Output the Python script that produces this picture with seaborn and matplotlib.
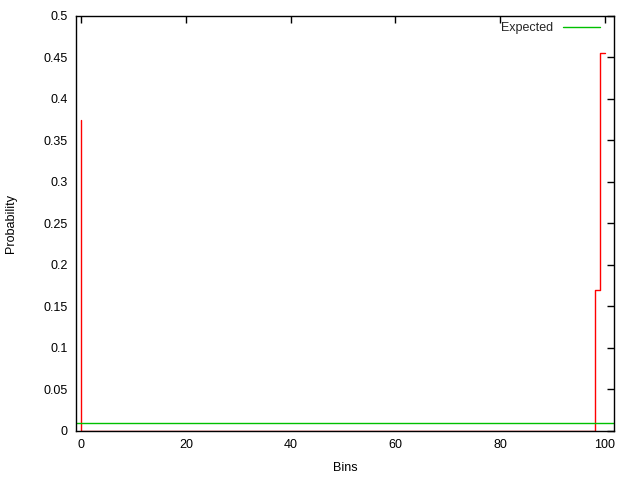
import matplotlib
matplotlib.use("Agg")
import matplotlib.pyplot as plt
import seaborn as sns
import pandas as pd
from matplotlib.ticker import FormatStrFormatter

# Data
bins = list(range(0, 101))
probability = [0.375] + [0.0] * 98 + [0.17, 0.455]
expected = 0.01
x_ticks = [0, 20, 40, 60, 80, 100]
y_ticks = [0, 0.05, 0.1, 0.15, 0.2, 0.25, 0.3, 0.35, 0.4, 0.45, 0.5]

df = pd.DataFrame({"Bins": bins, "Probability": probability})

sns.set_theme(style="white")
plt.rcParams["font.family"] = ["Liberation Sans", "DejaVu Sans"]
plt.rcParams["font.size"] = 9

fig = plt.figure(figsize=(6.4, 4.8), dpi=100)
ax = fig.add_axes([0.11875, 0.1021, 0.9589 - 0.11875, 0.9667 - 0.1021])

sns.lineplot(data=df, x="Bins", y="Probability", ax=ax, color="#ff0000",
             linewidth=1.0, drawstyle="steps-pre", estimator=None, sort=True)
ax.axhline(expected, color="#00c000", linewidth=1.0, label="Expected")

ax.set_xlim(-1, 101.66)
ax.set_ylim(0, 0.5)
ax.set_xticks(x_ticks)
ax.set_yticks(y_ticks)
ax.yaxis.set_major_formatter(FormatStrFormatter("%g"))
ax.tick_params(direction="in", length=5, width=1, top=True, right=True,
               labelsize=9, colors="black", pad=6)
for s in ax.spines.values():
    s.set_color("black")
    s.set_linewidth(1.0)
    s.set_visible(True)

ax.set_xlabel("Bins", fontsize=9, color="black", labelpad=8)
ax.set_ylabel("Probability", fontsize=9, color="black", labelpad=19)

leg = ax.legend(loc="upper right", bbox_to_anchor=(0.975, 0.985), frameon=False,
                markerfirst=False, handlelength=3.0, handletextpad=0.8,
                borderpad=0, borderaxespad=0, fontsize=9)

fig.savefig("out.png", dpi=100)
